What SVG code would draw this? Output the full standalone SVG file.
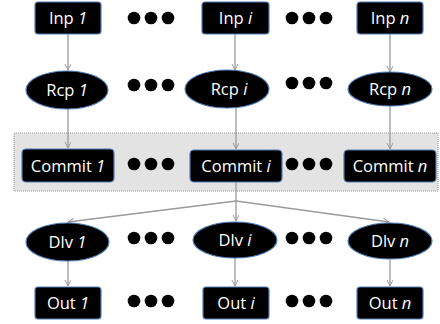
<svg xmlns="http://www.w3.org/2000/svg" width="440" height="324" viewBox="0 0 440 324">
<style>
.box{fill:#000;stroke:#4f7fb8;stroke-width:1.2}
.lbl{fill:#fff;font-family:"Open Sans","Liberation Sans",sans-serif;font-size:16.5px;text-anchor:middle}
.it{font-style:italic}
.dot{fill:#000}
.con{stroke:#9a9a9a;stroke-width:1.3;fill:none}
</style>
<defs>
<marker id="ah" markerWidth="8" markerHeight="8" refX="6" refY="3" orient="auto" markerUnits="userSpaceOnUse">
<path d="M0,0 L6,3 L0,6" fill="none" stroke="#9a9a9a" stroke-width="1"/>
</marker>
</defs>
<rect id="commit-band" x="14" y="133" width="424" height="58" fill="#e3e3e3" stroke="#9a9a9a" stroke-dasharray="1,1" stroke-width="1"/>
<g id="connectors">
<line class="con" x1="68" y1="34" x2="68" y2="70" marker-end="url(#ah)"/>
<line class="con" x1="235" y1="34" x2="235" y2="70" marker-end="url(#ah)"/>
<line class="con" x1="390" y1="34" x2="390" y2="72" marker-end="url(#ah)"/>
<line class="con" x1="68" y1="109" x2="68" y2="148" marker-end="url(#ah)"/>
<line class="con" x1="236" y1="108" x2="236" y2="149" marker-end="url(#ah)"/>
<line class="con" x1="390" y1="105" x2="390" y2="149" marker-end="url(#ah)"/>
<line class="con" x1="236" y1="182" x2="236" y2="201"/>
<line class="con" x1="236" y1="201" x2="236" y2="221" marker-end="url(#ah)"/>
<line class="con" x1="236" y1="201" x2="68" y2="222" marker-end="url(#ah)"/>
<line class="con" x1="236" y1="201" x2="389" y2="222" marker-end="url(#ah)"/>
<line class="con" x1="68" y1="261" x2="68" y2="286" marker-end="url(#ah)"/>
<line class="con" x1="235" y1="258" x2="235" y2="286" marker-end="url(#ah)"/>
<line class="con" x1="390" y1="260" x2="390" y2="286" marker-end="url(#ah)"/>
</g>
<g id="inp1"><rect class="box" x="35" y="2" width="66" height="32" rx="3"/><text class="lbl" x="68" y="24">Inp <tspan class="it">1</tspan></text></g>
<g id="inpi"><rect class="box" x="202" y="2" width="67" height="32" rx="3"/><text class="lbl" x="235.5" y="24">Inp <tspan class="it">i</tspan></text></g>
<g id="inpn"><rect class="box" x="357" y="2" width="66" height="32" rx="3"/><text class="lbl" x="390" y="24">Inp <tspan class="it">n</tspan></text></g>
<g id="rcp1"><ellipse class="box" cx="67" cy="90" rx="41" ry="19"/><text class="lbl" x="67" y="96">Rcp <tspan class="it">1</tspan></text></g>
<g id="rcpi"><ellipse class="box" cx="227" cy="89" rx="42" ry="19"/><text class="lbl" x="229" y="95">Rcp <tspan class="it">i</tspan></text></g>
<g id="rcpn"><ellipse class="box" cx="390" cy="89" rx="42" ry="17"/><text class="lbl" x="390" y="95">Rcp <tspan class="it">n</tspan></text></g>
<g id="commit1"><rect class="box" x="22" y="149" width="92" height="33" rx="4"/><text class="lbl" x="68" y="172">Commit <tspan class="it">1</tspan></text></g>
<g id="commiti"><rect class="box" x="190" y="150" width="92" height="32" rx="4"/><text class="lbl" x="236" y="172">Commit <tspan class="it">i</tspan></text></g>
<g id="commitn"><rect class="box" x="344" y="150" width="92" height="32" rx="4"/><text class="lbl" x="390" y="172">Commit <tspan class="it">n</tspan></text></g>
<g id="dlv1"><ellipse class="box" cx="67.5" cy="242" rx="41.5" ry="19"/><text class="lbl" x="67.5" y="248">Dlv <tspan class="it">1</tspan></text></g>
<g id="dlvi"><ellipse class="box" cx="235" cy="240" rx="42" ry="18"/><text class="lbl" x="235" y="246">Dlv <tspan class="it">i</tspan></text></g>
<g id="dlvn"><ellipse class="box" cx="390" cy="241" rx="42" ry="18"/><text class="lbl" x="390" y="247">Dlv <tspan class="it">n</tspan></text></g>
<g id="out1"><rect class="box" x="35" y="287" width="66" height="32" rx="3"/><text class="lbl" x="68" y="309">Out <tspan class="it">1</tspan></text></g>
<g id="outi"><rect class="box" x="203" y="287" width="66" height="32" rx="3"/><text class="lbl" x="236" y="309">Out <tspan class="it">i</tspan></text></g>
<g id="outn"><rect class="box" x="357" y="287" width="66" height="32" rx="3"/><text class="lbl" x="390" y="309">Out <tspan class="it">n</tspan></text></g>
<g id="dots">
<circle class="dot" cx="134" cy="18" r="6.3"/><circle class="dot" cx="151" cy="18" r="6.3"/><circle class="dot" cx="168" cy="18" r="6.3"/>
<circle class="dot" cx="292" cy="18" r="6.3"/><circle class="dot" cx="309" cy="18" r="6.3"/><circle class="dot" cx="326" cy="18" r="6.3"/>
<circle class="dot" cx="134" cy="85" r="6.3"/><circle class="dot" cx="151" cy="85" r="6.3"/><circle class="dot" cx="168" cy="85" r="6.3"/>
<circle class="dot" cx="292" cy="83" r="6.3"/><circle class="dot" cx="309" cy="83" r="6.3"/><circle class="dot" cx="326" cy="83" r="6.3"/>
<circle class="dot" cx="134" cy="164" r="6.3"/><circle class="dot" cx="151" cy="164" r="6.3"/><circle class="dot" cx="168" cy="164" r="6.3"/>
<circle class="dot" cx="292" cy="164" r="6.3"/><circle class="dot" cx="309" cy="164" r="6.3"/><circle class="dot" cx="326" cy="164" r="6.3"/>
<circle class="dot" cx="134" cy="238" r="6.3"/><circle class="dot" cx="151" cy="238" r="6.3"/><circle class="dot" cx="168" cy="238" r="6.3"/>
<circle class="dot" cx="292" cy="238" r="6.3"/><circle class="dot" cx="309" cy="238" r="6.3"/><circle class="dot" cx="326" cy="238" r="6.3"/>
<circle class="dot" cx="134" cy="301" r="6.3"/><circle class="dot" cx="151" cy="301" r="6.3"/><circle class="dot" cx="168" cy="301" r="6.3"/>
<circle class="dot" cx="292" cy="301" r="6.3"/><circle class="dot" cx="309" cy="301" r="6.3"/><circle class="dot" cx="326" cy="301" r="6.3"/>
</g>
</svg>
